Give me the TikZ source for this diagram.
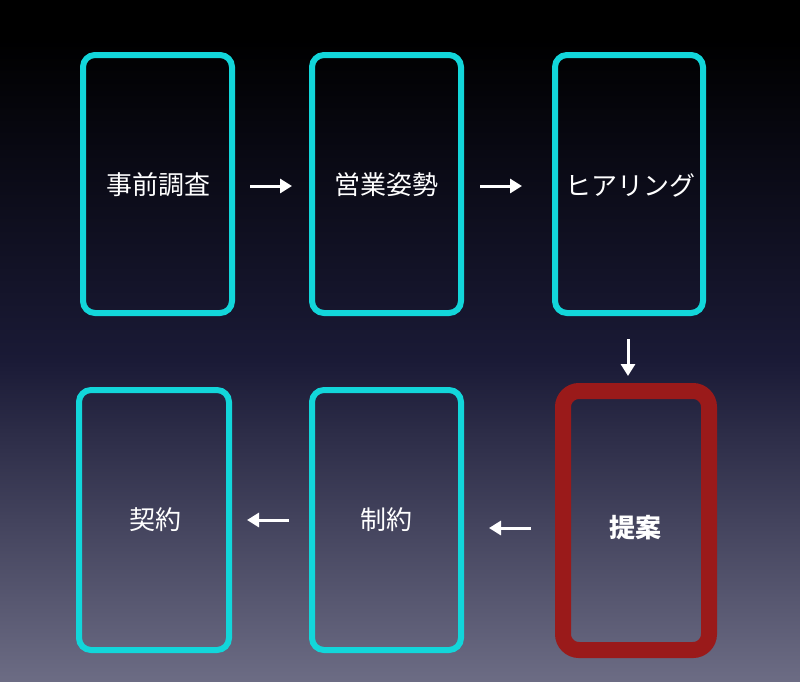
\documentclass[tikz,border=0pt]{standalone}
\usepackage{fontspec}
\newfontfamily\cjk{Noto Sans CJK JP}
\usetikzlibrary{arrows.meta}
\definecolor{cy}{HTML}{12D6DA}
\definecolor{rd}{HTML}{9A1A1A}
\definecolor{bot}{HTML}{6C6C84}
\definecolor{mid}{HTML}{1A1A36}
\tikzset{
 card/.style={draw=cy,line width=6pt,rounded corners=12pt},
 lbl/.style={text=white,font=\cjk\fontsize{26}{30}\selectfont},
 arr/.style={draw=white,line width=3pt,-{Triangle[length=12pt,width=14pt]}}
}
\begin{document}
\begin{tikzpicture}[x=1pt,y=-1pt]
\useasboundingbox (0,0) rectangle (800,681);
\fill[black] (0,0) rectangle (800,40);
\shade[top color=black,bottom color=bot,middle color=mid] (0,40) rectangle (800,681);
\draw[card] (83,55) rectangle (232,313);
\draw[card] (312,55) rectangle (461,313);
\draw[card] (555,55) rectangle (703,313);
\draw[card] (79,390) rectangle (229,650);
\draw[card] (312,390) rectangle (461,650);
\draw[draw=rd,line width=16pt,rounded corners=16pt] (563,391) rectangle (709,650);
\node[lbl] (a) at (158,185) {事前調査};
\node[lbl] (b) at (386,185) {営業姿勢};
\node[lbl] (c) at (630,185) {ヒアリング};
\node[lbl] (f) at (155,520) {契約};
\node[lbl] (e) at (386,520) {制約};
\node[lbl,font=\cjk\bfseries\fontsize{26}{30}\selectfont] (d) at (635,528) {提案};
\coordinate (a1) at (250,186); \coordinate (a2) at (292,186);
\coordinate (b1) at (480,186); \coordinate (b2) at (522,186);
\coordinate (c1) at (628,339); \coordinate (c2) at (628,376);
\coordinate (d1) at (531,528); \coordinate (d2) at (489,528);
\coordinate (e1) at (289,520); \coordinate (e2) at (247,520);
\draw[arr] (a1) -- (a2);
\draw[arr] (b1) -- (b2);
\draw[arr] (c1) -- (c2);
\draw[arr] (d1) -- (d2);
\draw[arr] (e1) -- (e2);
\end{tikzpicture}
\end{document}
